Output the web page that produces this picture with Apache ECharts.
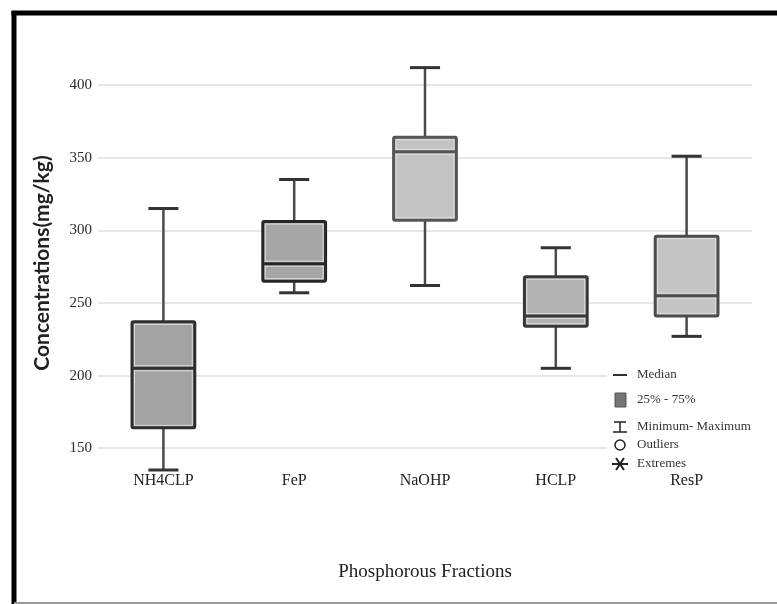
<!DOCTYPE html>
<html>
	<head>
		<meta charset="utf-8">
		<title>Phosphorous Fractions box plot</title>
		<script src="https://cdn.jsdelivr.net/npm/echarts@6/dist/echarts.min.js"></script>
		<style>
			html, body { margin: 0; padding: 0; background: #fff; }
		</style>
	</head>
	<body>
		<div id="main" style="width: 777px;height:604px;"></div>

		<script type="text/javascript">
			// data
			var categories = ['NH4CLP', 'FeP', 'NaOHP', 'HCLP', 'ResP'];
			var minVals    = [135, 257, 262, 205, 227];
			var q1Vals     = [164, 265, 307, 234, 241];
			var medianVals = [205, 277, 354, 241, 255];
			var q3Vals     = [237, 306, 364, 268, 296];
			var maxVals    = [315, 335, 412, 288, 351];
			var legendNames = ['Median', '25% - 75%', 'Minimum- Maximum', 'Outliers', 'Extremes'];

			// box look (styles, not data)
			var boxFill   = ['#a3a3a3', '#a6a6a6', '#c3c3c3', '#b3b3b3', '#c4c4c4'];
			var boxStroke = ['#2e2e2e', '#262626', '#555555', '#383838', '#4c4c4c'];

			var serif = '"Liberation Serif", "DejaVu Serif", serif';

			var boxData = categories.map(function (c, i) {
				return [i, minVals[i], q1Vals[i], medianVals[i], q3Vals[i], maxVals[i]];
			});

			function renderBox(params, api) {
				var i = api.value(0);
				var pMin = api.coord([i, api.value(1)]);
				var pQ1 = api.coord([i, api.value(2)]);
				var pMed = api.coord([i, api.value(3)]);
				var pQ3 = api.coord([i, api.value(4)]);
				var pMax = api.coord([i, api.value(5)]);
				var band = api.size([1, 0])[0];
				var half = band * 0.24;
				var cap = band * 0.115;
				var x = pMed[0];
				var stroke = boxStroke[i];
				var wStyle = { stroke: '#4a4a4a', lineWidth: 2.5 };
				var cStyle = { stroke: '#333', lineWidth: 3 };
				return {
					type: 'group',
					children: [
						// whiskers
						{ type: 'line', shape: { x1: x, y1: pMax[1], x2: x, y2: pQ3[1] }, style: wStyle },
						{ type: 'line', shape: { x1: x, y1: pQ1[1], x2: x, y2: pMin[1] }, style: wStyle },
						{ type: 'line', shape: { x1: x - cap, y1: pMax[1], x2: x + cap, y2: pMax[1] }, style: cStyle },
						{ type: 'line', shape: { x1: x - cap, y1: pMin[1], x2: x + cap, y2: pMin[1] }, style: cStyle },
						// box
						{
							type: 'rect',
							shape: { x: x - half, y: pQ3[1], width: half * 2, height: pQ1[1] - pQ3[1], r: 1.5 },
							style: { fill: boxFill[i], stroke: stroke, lineWidth: 3 }
						},
						{
							type: 'rect',
							shape: { x: x - half + 2.5, y: pQ3[1] + 2.5, width: half * 2 - 5, height: pQ1[1] - pQ3[1] - 5 },
							style: { fill: 'none', stroke: '#dcdcdc', lineWidth: 1 }
						},
						// median
						{ type: 'line', shape: { x1: x - half + 2, y1: pMed[1] - 2.5, x2: x + half - 2, y2: pMed[1] - 2.5 }, style: { stroke: '#dedede', lineWidth: 1 } },
						{ type: 'line', shape: { x1: x - half + 2, y1: pMed[1] + 2.5, x2: x + half - 2, y2: pMed[1] + 2.5 }, style: { stroke: '#dedede', lineWidth: 1 } },
						{ type: 'line', shape: { x1: x - half, y1: pMed[1], x2: x + half, y2: pMed[1] }, style: { stroke: stroke, lineWidth: 3 } }
					]
				};
			}

			// little legend drawn with graphics, on a white patch
			var lx = 620, ly = [375, 400, 427, 445, 464];
			var txtStyle = { fill: '#333', font: '13px ' + serif, verticalAlign: 'middle' };
			var legendItems = [
				{ type: 'rect', shape: { x: 607, y: 364, width: 158, height: 110 }, style: { fill: '#fff' } },
				{ type: 'line', shape: { x1: lx - 7, y1: ly[0], x2: lx + 7, y2: ly[0] }, style: { stroke: '#333', lineWidth: 2 } },
				{ type: 'rect', shape: { x: lx - 5, y: ly[1] - 7, width: 11, height: 14 }, style: { fill: '#777', stroke: '#555', lineWidth: 1 } },
				{ type: 'polyline', shape: { points: [[lx - 6, ly[2] - 5], [lx + 6, ly[2] - 5]] }, style: { stroke: '#222', lineWidth: 1.5 } },
				{ type: 'polyline', shape: { points: [[lx, ly[2] - 5], [lx, ly[2] + 5]] }, style: { stroke: '#222', lineWidth: 1.5 } },
				{ type: 'polyline', shape: { points: [[lx - 7, ly[2] + 5], [lx + 7, ly[2] + 5]] }, style: { stroke: '#222', lineWidth: 1.5 } },
				{ type: 'circle', shape: { cx: lx, cy: ly[3], r: 5 }, style: { fill: 'none', stroke: '#222', lineWidth: 1.5 } },
				{ type: 'line', shape: { x1: lx - 8, y1: ly[4], x2: lx + 8, y2: ly[4] }, style: { stroke: '#222', lineWidth: 2 } },
				{ type: 'line', shape: { x1: lx - 4, y1: ly[4] - 6, x2: lx + 4, y2: ly[4] + 6 }, style: { stroke: '#222', lineWidth: 2 } },
				{ type: 'line', shape: { x1: lx + 4, y1: ly[4] - 6, x2: lx - 4, y2: ly[4] + 6 }, style: { stroke: '#222', lineWidth: 2 } }
			];
			legendNames.forEach(function (n, k) {
				legendItems.push({ type: 'text', x: 637, y: ly[k], style: Object.assign({ text: n }, txtStyle) });
			});
			legendItems.forEach(function (el) { el.z = 100; });

			var myChart = echarts.init(document.getElementById('main'));
			var option = {
				backgroundColor: '#fff',
				animation: false,
				grid: { left: 98, right: 25, top: 56, bottom: 134 },
				xAxis: {
					type: 'category',
					data: categories,
					name: 'Phosphorous Fractions',
					nameLocation: 'middle',
					nameGap: 93,
					nameTextStyle: { fontFamily: serif, fontSize: 19, color: '#222' },
					axisLine: { show: false },
					axisTick: { show: false },
					axisLabel: { fontFamily: serif, fontSize: 16, color: '#222', margin: 3 }
				},
				yAxis: {
					type: 'value',
					min: 135,
					max: 420,
					name: 'Concentrations(mg/kg)',
					nameLocation: 'middle',
					nameGap: 45,
					nameTextStyle: { fontFamily: 'Lato, "Noto Sans", sans-serif', fontWeight: 'bold', fontSize: 21, color: '#222' },
					axisLine: { show: false },
					axisTick: { show: false },
					axisLabel: { fontFamily: serif, fontSize: 15, color: '#2a2a2a', margin: 6, showMinLabel: false, showMaxLabel: false },
					splitLine: { show: true, showMinLine: false, showMaxLine: false, lineStyle: { color: '#e6e6e6', width: 2 } }
				},
				series: [{
					type: 'custom',
					name: 'box',
					data: boxData,
					encode: { x: 0, y: [1, 2, 3, 4, 5] },
					renderItem: renderBox
				}],
				graphic: legendItems.concat([
					// frame around the figure
					{ type: 'line', z: 100, shape: { x1: 11.5, y1: 13, x2: 777, y2: 13 }, style: { stroke: '#000', lineWidth: 5 } },
					{ type: 'line', z: 100, shape: { x1: 14, y1: 11, x2: 14, y2: 604 }, style: { stroke: '#000', lineWidth: 5 } },
					{ type: 'line', z: 100, shape: { x1: 14, y1: 603, x2: 777, y2: 603 }, style: { stroke: '#9a9a9a', lineWidth: 2 } }
				])
			};

			myChart.setOption(option);
		</script>
	</body>
</html>
